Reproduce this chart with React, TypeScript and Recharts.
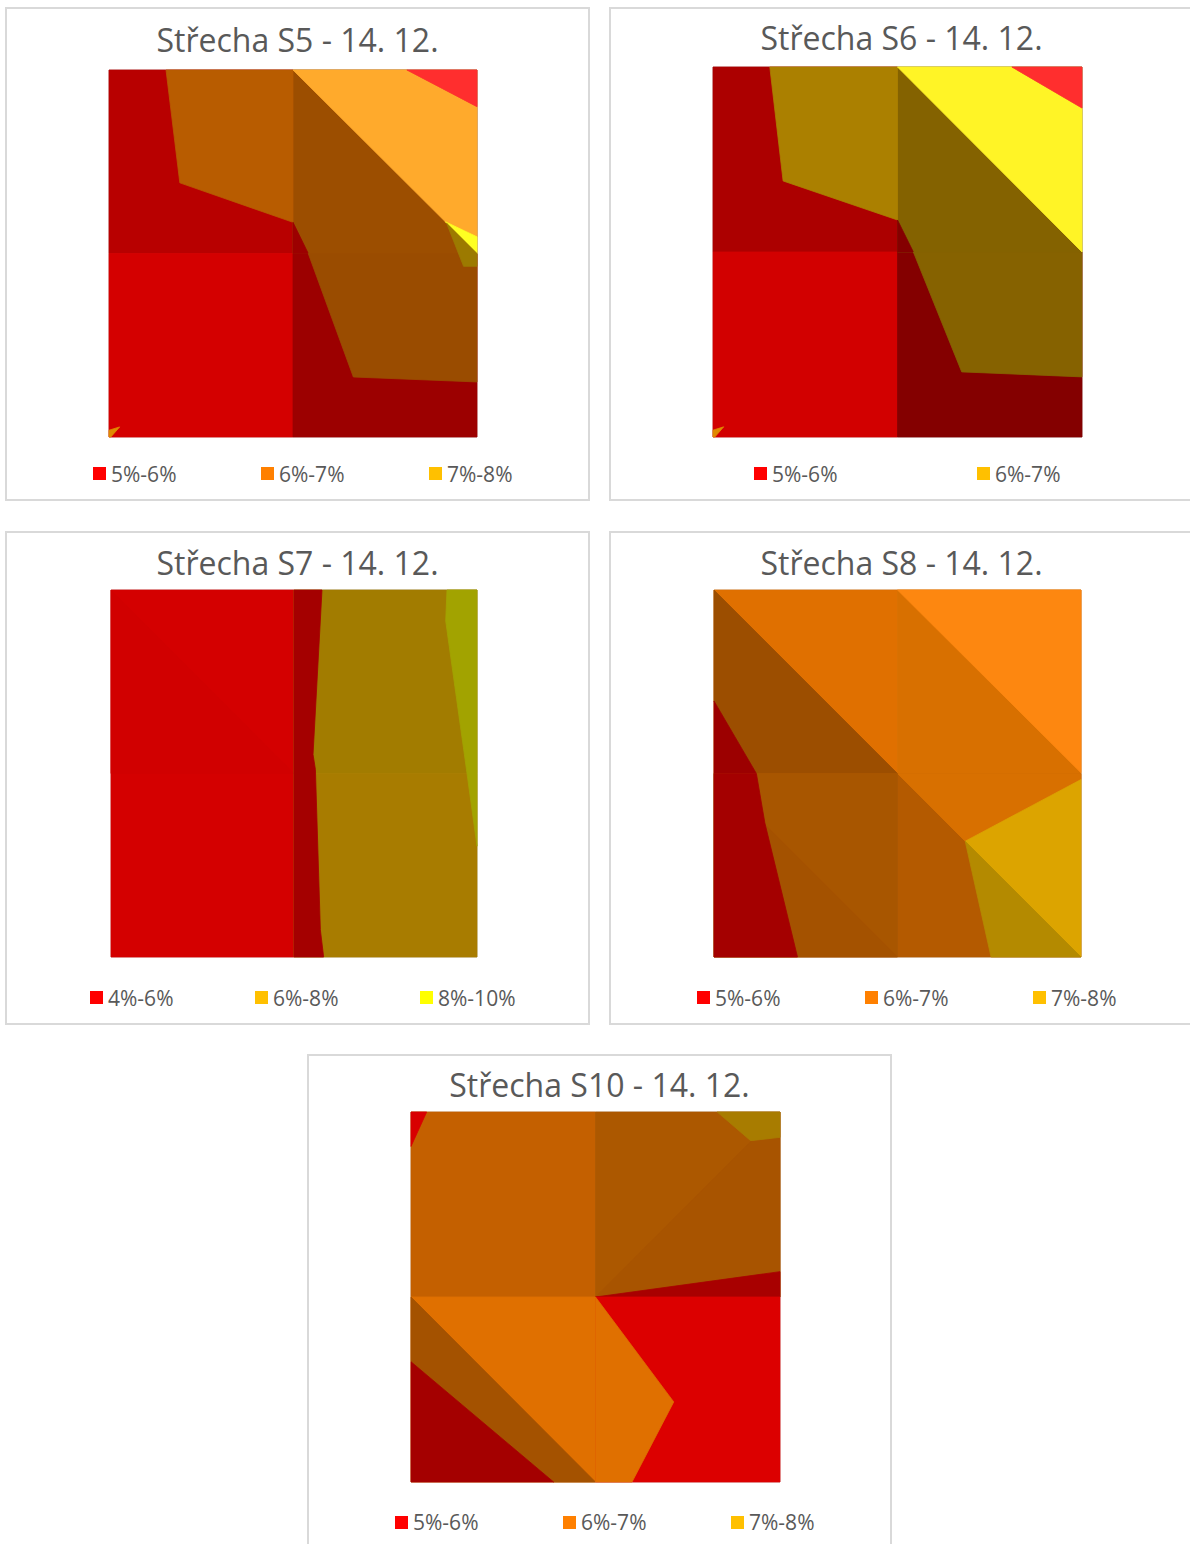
import React from 'react';
import { ScatterChart, Scatter, XAxis, YAxis, ReferenceArea } from 'recharts';

// surface charts seen from above: grid 0..2 x 0..2, y grows downwards
const titles = [
  'Střecha S5 - 14. 12.',
  'Střecha S6 - 14. 12.',
  'Střecha S7 - 14. 12.',
  'Střecha S8 - 14. 12.',
  'Střecha S10 - 14. 12.',
];

const s5Shapes = [
  [[0, 0], [1, 0], [1, 1], [0, 1]],
  [[0, 1], [1, 1], [1, 2], [0, 2]],
  [[1, 1], [2, 1], [2, 2], [1, 2]],
  [[1, 0], [2, 0], [2, 1], [1, 1]],
  [[0.31, 0], [1, 0], [1, 0.83], [0.385, 0.615]],
  [[1, 0.83], [1.083, 1], [1, 1]],
  [[1.083, 1], [2, 1], [2, 1.7], [1.328, 1.673]],
  [[1, 0], [1.619, 0], [2, 0.2], [2, 0.909], [1.828, 0.827]],
  [[1.619, 0], [2, 0], [2, 0.2]],
  [[1.828, 0.827], [2, 0.909], [2, 1]],
  [[1.835, 0.835], [2, 1], [2, 1.07], [1.927, 1.07]],
  [[0, 2], [0, 1.963], [0.058, 1.945], [0.01, 2]],
];
const s5Fills = ['#b80000', '#d40000', '#9c0000', '#9c4e00', '#b85c00', '#9c0000', '#9a4c00', '#ffaa2c', '#ff2e2e', '#ffff22', '#9c7a00', '#e08a00'];

const s6Shapes = [
  [[0, 0], [1, 0], [1, 1], [0, 1]],
  [[0, 1], [1, 1], [1, 2], [0, 2]],
  [[1, 1], [2, 1], [2, 2], [1, 2]],
  [[1, 0], [2, 0], [2, 1], [1, 1]],
  [[0.308, 0], [1, 0], [1, 0.827], [0.38, 0.616]],
  [[1, 0.827], [1.086, 1], [1, 1]],
  [[1.086, 1], [2, 1], [2, 1.675], [1.348, 1.648]],
  [[1, 0], [1.62, 0], [2, 0.222], [2, 1]],
  [[1.62, 0], [2, 0], [2, 0.222]],
  [[0, 2], [0, 1.963], [0.058, 1.945], [0.01, 2]],
];
const s6Fills = ['#ac0000', '#d20000', '#840000', '#846200', '#ab8000', '#840000', '#866200', '#fff426', '#ff2e2e', '#e08a00'];

const s7Shapes = [
  [[0, 0], [1, 0], [1, 2], [0, 2]],
  [[0, 0], [1, 1], [0, 1]],
  [[1, 0], [2, 0], [2, 1], [1, 1]],
  [[1, 1], [2, 1], [2, 2], [1, 2]],
  [[1, 0], [1.153, 0], [1.104, 0.896], [1.117, 0.978], [1.144, 1.851], [1.162, 2], [1, 2]],
  [[1.836, 0], [2, 0], [2, 1.396], [1.945, 0.996], [1.829, 0.169]],
];
const s7Fills = ['#d40000', '#d10000', '#a27c00', '#a87c00', '#a40000', '#a2a300'];

const s8Shapes = [
  [[0, 0], [1, 0], [1, 1], [0, 1]],
  [[1, 0], [2, 0], [2, 1], [1, 1]],
  [[1, 0], [2, 0], [2, 0.996]],
  [[0, 0], [1, 1], [0.231, 1], [0, 0.605]],
  [[0, 0.605], [0.231, 1], [0, 1]],
  [[1, 1], [2, 1], [2, 2], [1, 2]],
  [[1, 1], [2, 1], [2, 1.033], [1.369, 1.369]],
  [[1.369, 1.369], [2, 1.033], [2, 2]],
  [[1.369, 1.369], [2, 2], [1.51, 2]],
  [[0, 1], [1, 1], [1, 2], [0, 2]],
  [[0, 1], [1, 2], [0, 2]],
  [[0, 1], [0.231, 1], [0.277, 1.269], [0.455, 2], [0, 2]],
];
const s8Fills = ['#e07000', '#d87000', '#fd8710', '#9c4e00', '#9c0000', '#b45a00', '#d87000', '#dca400', '#b48a00', '#a85600', '#a45200', '#a40000'];

const s10Shapes = [
  [[0, 0], [1, 0], [1, 1], [0, 1]],
  [[0, 0], [0.085, 0], [0, 0.186]],
  [[1, 0], [2, 0], [2, 1], [1, 1]],
  [[1, 1], [2, 0], [2, 1]],
  [[1.66, 0], [2, 0], [2, 0.137], [1.841, 0.155]],
  [[1, 1], [2, 0.863], [2, 1]],
  [[0, 1], [1, 1], [1, 2], [0, 2]],
  [[0, 1], [1, 2], [0.773, 2], [0, 1.35]],
  [[0, 1.35], [0.773, 2], [0, 2]],
  [[1, 1], [2, 1], [2, 2], [1, 2]],
  [[1, 1], [1.424, 1.567], [1.198, 2], [1, 2]],
];
const s10Fills = ['#c46000', '#d80000', '#ac5800', '#a85400', '#a87c00', '#a80000', '#e07000', '#a45200', '#a40000', '#dc0000', '#e07000'];

const bands3 = ['5%-6%', '6%-7%', '7%-8%'];
const bandColors3 = ['#ff0000', '#ff8000', '#ffc000'];
const s6Bands = ['5%-6%', '6%-7%'];
const s6BandColors = ['#ff0000', '#ffc000'];
const s7Bands = ['4%-6%', '6%-8%', '8%-10%'];
const s7BandColors = ['#ff0000', '#ffc000', '#ffff00'];

const panels = [
  { left: 5, top: 7, plot: [109, 70, 368, 367], titleBase: 52, shapes: s5Shapes, fills: s5Fills, bands: bands3, colors: bandColors3, legX: 93, legStep: 168, legY: 473.5 },
  { left: 609, top: 7, plot: [713, 67, 369, 370], titleBase: 50, shapes: s6Shapes, fills: s6Fills, bands: s6Bands, colors: s6BandColors, legX: 754, legStep: 223, legY: 473.5 },
  { left: 5, top: 531, plot: [111, 590, 366, 367], titleBase: 575, shapes: s7Shapes, fills: s7Fills, bands: s7Bands, colors: s7BandColors, legX: 90, legStep: 165, legY: 997.5 },
  { left: 609, top: 531, plot: [714, 590, 367, 367], titleBase: 575, shapes: s8Shapes, fills: s8Fills, bands: bands3, colors: bandColors3, legX: 697, legStep: 168, legY: 997.5 },
  { left: 307, top: 1054, plot: [411, 1112, 369, 370], titleBase: 1097, shapes: s10Shapes, fills: s10Fills, bands: bands3, colors: bandColors3, legX: 395, legStep: 168, legY: 1522 },
];

const W = 585;
const H = 494;
const B = 2;
const font = "'Open Sans', 'Noto Sans', sans-serif";

function Panel({ cfg, title }: { cfg: any; title: string }) {
  const ox = cfg.left + B;
  const oy = cfg.top + B;
  const cw = W - 2 * B;
  const ch = H - 2 * B;
  const [px, py, pw, ph] = cfg.plot;
  const margin = {
    left: px - ox,
    top: py - oy,
    right: cw - (px - ox + pw),
    bottom: ch - (py - oy + ph),
  };
  return (
    <div
      style={{
        position: 'absolute',
        left: cfg.left,
        top: cfg.top,
        width: W,
        height: H,
        border: `${B}px solid #d9d9d9`,
        boxSizing: 'border-box',
        background: '#fff',
      }}
    >
      <div
        style={{
          position: 'absolute',
          left: 0,
          right: 0,
          top: cfg.titleBase - 32.4 - oy,
          textAlign: 'center',
          fontFamily: font,
          fontSize: 32,
          lineHeight: '40px',
          color: '#595959',
          whiteSpace: 'nowrap',
        }}
      >
        {title}
      </div>
      <div style={{ position: 'absolute', left: 0, top: 0 }}>
        <ScatterChart width={cw} height={ch} margin={margin}>
          <XAxis type="number" dataKey="x" domain={[0, 2]} hide />
          <YAxis type="number" dataKey="y" domain={[0, 2]} reversed hide />
          {cfg.shapes.map((s: number[][], i: number) => (
            <Scatter
              key={i}
              data={[...s, s[0]].map(([x, y]) => ({ x, y }))}
              isAnimationActive={false}
              shape={() => <g />}
              line={{ fill: cfg.fills[i], stroke: cfg.fills[i], strokeWidth: 0.8 }}
              lineJointType="linear"
            />
          ))}
          <ReferenceArea x1={0} x2={2} y1={0} y2={2} fill="none" stroke="#d0d0d0" strokeWidth={1} ifOverflow="visible" />
        </ScatterChart>
      </div>
      {cfg.bands.map((b: string, i: number) => (
        <div
          key={b}
          style={{
            position: 'absolute',
            left: cfg.legX + i * cfg.legStep - ox,
            top: cfg.legY - 10 - oy,
            height: 20,
            display: 'flex',
            alignItems: 'center',
            fontFamily: font,
            fontSize: 21,
            lineHeight: '20px',
            color: '#595959',
            whiteSpace: 'nowrap',
          }}
        >
          <span style={{ display: 'inline-block', width: 13, height: 13, background: cfg.colors[i], marginRight: 5 }} />
          {b}
        </div>
      ))}
    </div>
  );
}

export default function App() {
  return (
    <div style={{ position: 'absolute', left: 0, top: 0, width: 1190, height: 1544, overflow: 'hidden', background: '#fff' }}>
      {panels.map((p, i) => (
        <Panel key={i} cfg={p} title={titles[i]} />
      ))}
    </div>
  );
}
